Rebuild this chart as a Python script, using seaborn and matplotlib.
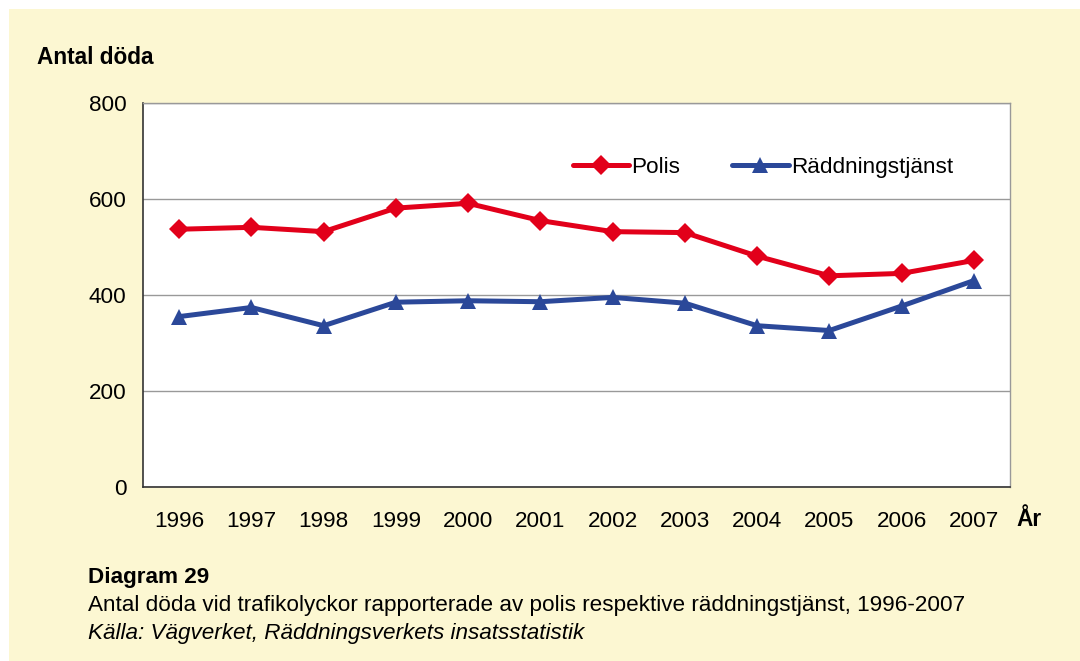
import matplotlib
matplotlib.use("Agg")
import matplotlib.pyplot as plt
import seaborn as sns
import pandas as pd
import numpy as np
from matplotlib.patches import Rectangle

years = [1996, 1997, 1998, 1999, 2000, 2001, 2002, 2003, 2004, 2005, 2006, 2007]
polis = [537, 541, 532, 581, 591, 555, 532, 530, 481, 440, 445, 472]
raddning = [355, 374, 336, 385, 388, 386, 395, 383, 336, 326, 377, 430]
series_names = ["Polis", "Räddningstjänst"]
y_ticks = [0, 200, 400, 600, 800]

df = pd.DataFrame({
    "År": years * 2,
    "Antal": polis + raddning,
    "Serie": [series_names[0]] * len(years) + [series_names[1]] * len(years),
})

sns.set_theme(style="white")
plt.rcParams["font.family"] = ["Liberation Sans", "DejaVu Sans"]
plt.rcParams["text.color"] = "black"

BG = "#FCF7D2"
RED = "#E2001A"
BLUE = "#2B4899"

fig = plt.figure(figsize=(10.8, 6.61), dpi=100)
fig.patch.set_facecolor("white")
fig.patches.append(Rectangle((9 / 1080, 0), 1 - 9 / 1080, 1 - 9 / 661,
                             transform=fig.transFigure, facecolor=BG,
                             edgecolor="none", zorder=-10))

W, H = 1080, 661
ax = fig.add_axes([143 / W, 1 - 487 / H, (1010 - 143) / W, (487 - 103) / H])
ax.set_facecolor("white")

sns.lineplot(data=df, x="År", y="Antal", hue="Serie", style="Serie",
             palette={series_names[0]: RED, series_names[1]: BLUE},
             markers={series_names[0]: "D", series_names[1]: "^"},
             dashes=False, linewidth=3.6, markersize=10, markeredgewidth=0,
             ax=ax, legend=True)
for line in ax.get_lines():
    if line.get_marker() == "^":
        line.set_markersize(12)

ax.set_xlim(years[0] - 0.5, years[-1] + 0.5)
ax.set_ylim(0, 800)
ax.set_yticks(y_ticks)
ax.set_yticklabels([str(v) for v in y_ticks], fontsize=16.2)
ax.set_xticks(years)
ax.set_xticklabels([str(y) for y in years], fontsize=16.2)
ax.set_xticks(np.arange(years[0] - 0.5, years[-1] + 1.0, 1.0), minor=True)
ax.tick_params(axis="x", which="major", length=0, pad=17)
ax.tick_params(axis="x", which="minor", length=6, width=1, color="#333333", direction="out")
ax.tick_params(axis="y", which="major", length=6, width=1, color="#333333", direction="out", pad=6)
for lab in ax.get_yticklabels() + ax.get_xticklabels():
    lab.set_color("black")

ax.yaxis.grid(True, color="#999999", linewidth=1)
ax.xaxis.grid(False)
ax.set_axisbelow(True)
for s in ["top", "right"]:
    ax.spines[s].set_color("#999999")
    ax.spines[s].set_linewidth(1)
for s in ["left", "bottom"]:
    ax.spines[s].set_color("#333333")
    ax.spines[s].set_linewidth(1.2)

ax.set_xlabel("")
ax.set_ylabel("")

leg = ax.legend(loc="upper left", bbox_to_anchor=(0.4856, 0.883), ncol=2, frameon=False,
                fontsize=16.2, handlelength=2.5, handletextpad=0.1, columnspacing=2.3,
                borderaxespad=0)
for h, name in zip(leg.legend_handles, series_names):
    h.set_linewidth(3.6)
    h.set_markersize(10 if name == series_names[0] else 12)
for t in leg.get_texts():
    t.set_color("black")

fig.text(37 / W, 1 - 57 / H, "Antal döda", fontsize=16.3, fontweight="bold", va="center", ha="left")
fig.text(1016 / W, 1 - 520 / H, "År", fontsize=16.3, fontweight="bold", va="center", ha="left")
fig.text(88 / W, 1 - 577 / H, "Diagram 29", fontsize=16.2, fontweight="bold", va="center", ha="left")
fig.text(88 / W, 1 - 605 / H,
         "Antal döda vid trafikolyckor rapporterade av polis respektive räddningstjänst, 1996-2007",
         fontsize=16.2, va="center", ha="left")
fig.text(88 / W, 1 - 634 / H, "Källa: Vägverket, Räddningsverkets insatsstatistik",
         fontsize=16.2, style="italic", va="center", ha="left")

fig.savefig("out.png", dpi=100, facecolor=fig.get_facecolor())
